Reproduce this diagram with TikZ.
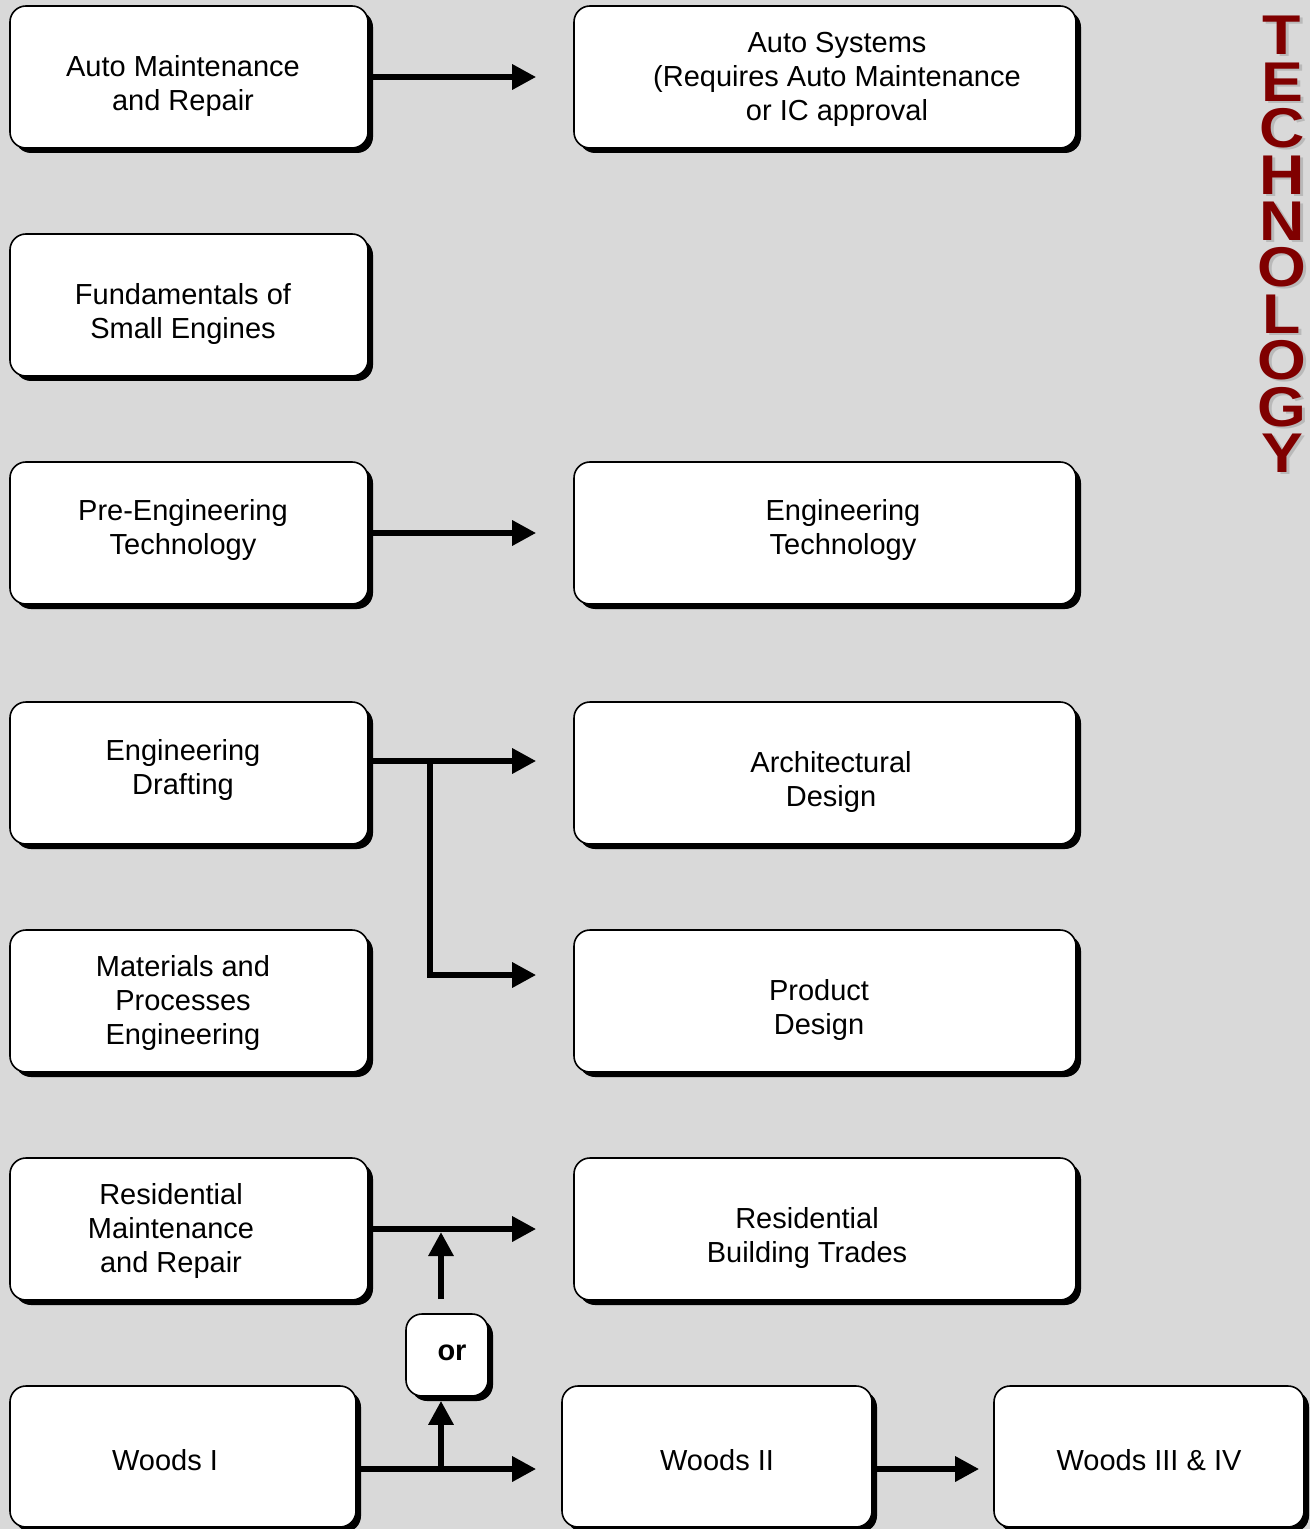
\documentclass[tikz,border=0pt]{standalone}
\usepackage{fontspec}
\setmainfont{Liberation Sans}
\usepackage{xcolor}
\usetikzlibrary{arrows.meta,positioning,shadows}

\definecolor{bggray}{HTML}{D9D9D9}
\definecolor{techred}{HTML}{800000}

\tikzset{
  course/.style={draw=black, line width=0.8pt, fill=white, rounded corners=8pt,
    drop shadow={shadow xshift=2.5pt, shadow yshift=-2.5pt, opacity=1, fill=black}},
  leftbox/.style={course, minimum width=179pt, minimum height=71pt},
  rightbox/.style={course, minimum width=251pt, minimum height=71pt},
  woodbox/.style={course, minimum width=155pt, minimum height=70.5pt},
  txt/.style={align=center, inner sep=0pt},
  flow/.style={line width=3pt, -{Triangle[length=12pt,width=12pt]}},
  techletter/.style={anchor=base, inner sep=0pt, text=techred,
    font=\fontsize{28pt}{28pt}\selectfont\bfseries},
  techshadow/.style={techletter, text=gray!55},
}

\begin{document}
\begin{tikzpicture}[x=0.5pt,y=-0.5pt,font=\fontsize{14.5pt}{17pt}\selectfont]
  % background
  \fill[bggray] (0,0) rectangle (1310,1529);
  \useasboundingbox (0,0) rectangle (1310,1529);

  % left column
  \node[leftbox] (autorep) at (189,77) {};
  \node[leftbox] (smeng) at (189,305) {};
  \node[leftbox] (preeng) at (189,533) {};
  \node[leftbox] (engdraft) at (189,773) {};
  \node[leftbox] (matproc) at (189,1001) {};
  \node[leftbox] (resmaint) at (189,1229) {};
  \node[woodbox, minimum width=173pt] (woodsone) at (183,1456.5) {};

  % right column
  \node[rightbox] (autosys) at (825,77) {};
  \node[rightbox] (engtech) at (825,533) {};
  \node[rightbox] (archdes) at (825,773) {};
  \node[rightbox] (proddes) at (825,1001) {};
  \node[rightbox] (resbuild) at (825,1229) {};
  \node[woodbox] (woodstwo) at (717,1456.5) {};
  \node[woodbox] (woodsthree) at (1149,1456.5) {};
  \node[course, minimum width=41pt, minimum height=41pt] (orbox) at (447,1355) {};

  % labels
  \node[txt] (autoreptxt) at (183,86) {Auto Maintenance\\and Repair};
  \node[txt] (smengtxt) at (183,314) {Fundamentals of\\Small Engines};
  \node[txt] (preengtxt) at (183,530) {Pre-Engineering\\Technology};
  \node[txt] (engdrafttxt) at (183,770) {Engineering\\Drafting};
  \node[txt] (matproctxt) at (183,1003) {Materials and\\Processes\\Engineering};
  \node[txt] (resmainttxt) at (171,1231) {Residential\\Maintenance\\and Repair};
  \node[txt] (woodsonetxt) at (165,1460) {Woods I};
  \node[txt] (autosystxt) at (837,79) {Auto Systems\\(Requires Auto Maintenance\\or IC approval};
  \node[txt] (engtechtxt) at (843,530) {Engineering\\Technology};
  \node[txt] (archdestxt) at (831,782) {Architectural\\Design};
  \node[txt] (proddestxt) at (819,1010) {Product\\Design};
  \node[txt] (resbuildtxt) at (807,1238) {Residential\\Building Trades};
  \node[txt] (woodstwotxt) at (717,1460) {Woods II};
  \node[txt] (woodsthreetxt) at (1149,1460) {Woods III \& IV};
  \node[txt, font=\fontsize{14.5pt}{17pt}\selectfont\bfseries] (ortxt) at (452,1353) {or};

  % connector ends
  \coordinate (draftout) at ([yshift=6pt]engdraft.east);
  \coordinate (split) at ([xshift=30.5pt]draftout);
  \coordinate (archin) at ([xshift=-18.5pt]archdes.west);
  \coordinate (prodin) at ([xshift=-18.5pt,yshift=13pt]proddes.west);
  \coordinate (resin) at ([xshift=-18.5pt]resbuild.west);
  \coordinate (restip) at ([yshift=-1.5pt]resmaint.east);
  \coordinate (orup) at ([xshift=-3pt,yshift=7pt]orbox.north);
  \coordinate (ordown) at ([xshift=-3pt,yshift=-2pt]orbox.south);
  \coordinate (woodsout) at ([yshift=-6.25pt]woodsone.east);
  \coordinate (woodsin) at ([xshift=-12.5pt]woodstwo.west);
  \coordinate (twoout) at ([yshift=-6.25pt]woodstwo.east);
  \coordinate (threein) at ([xshift=-7pt,yshift=-6.25pt]woodsthree.west);

  % arrows
  \draw[flow] (autorep.east) -- ([xshift=-18.5pt]autosys.west);
  \draw[flow] (preeng.east) -- ([xshift=-18.5pt]engtech.west);
  \draw[flow] (draftout) -- (draftout -| archin);
  \draw[flow] (split) |- (prodin);
  \draw[flow] (resmaint.east) -- (resin);
  \draw[flow] (orup) -- (orup |- restip);
  \draw[flow] (woodsout -| ordown) -- (ordown);
  \draw[flow] (woodsout) -- (woodsout -| woodsin);
  \draw[flow] (twoout) -- (threein);

  % vertical title
  \foreach \ch [count=\i from 0] in {T,E,C,H,N,O,L,O,G,Y} {
    \node[techshadow] (sh\i) at (1285,{57+46.4*\i}) {\scalebox{1.12}[1]{\ch}};
    \node[techletter] (tl\i) at (1282,{55+46.4*\i}) {\scalebox{1.12}[1]{\ch}};
  }
\end{tikzpicture}
\end{document}
